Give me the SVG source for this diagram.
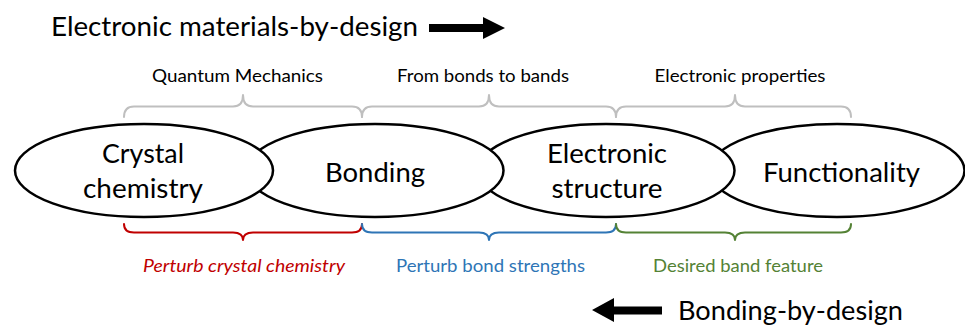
<svg xmlns="http://www.w3.org/2000/svg" width="965" height="325" viewBox="0 0 965 325">
  <style>
    text { font-family: Lato, "Open Sans", "Liberation Sans", sans-serif; fill: #000; }
    .big { font-size: 26.5px; }
    .node-label { font-size: 26.5px; text-anchor: middle; }
    .small { font-size: 18px; text-anchor: middle; }
    .node-shape { fill: #fff; stroke: #000; stroke-width: 2.5; }
    .brace { fill: none; stroke-width: 2; stroke-linejoin: round; stroke-linecap: round; }
    .grey { stroke: #BFBFBF; }
    .red { stroke: #C00000; }
    .blue { stroke: #2E75B6; }
    .green { stroke: #548235; }
    .arrow { fill: #000; }
  </style>

  <!-- direction headings -->
  <g id="heading-forward">
    <text class="big" x="51" y="36" textLength="367" lengthAdjust="spacingAndGlyphs">Electronic materials-by-design</text>
    <path class="arrow" d="M429,24 H483 V17 L505,28 L483,39 V32 H429 Z"/>
  </g>
  <g id="heading-reverse">
    <path class="arrow" d="M662,306.5 H614 V298 L592,310 L614,322 V314.5 H662 Z"/>
    <text class="big" x="678" y="320" textLength="225" lengthAdjust="spacingAndGlyphs">Bonding-by-design</text>
  </g>

  <!-- nodes: drawn right to left so each ellipse overlaps the next one -->
  <g id="node-functionality">
    <ellipse class="node-shape" cx="837" cy="170.5" rx="127.5" ry="46.5"/>
    <text class="node-label" x="841.5" y="182" textLength="157" lengthAdjust="spacingAndGlyphs">Functionality</text>
  </g>
  <g id="node-electronic-structure">
    <ellipse class="node-shape" cx="606" cy="170.5" rx="128.5" ry="46.5"/>
    <text class="node-label" x="607" y="163" textLength="120" lengthAdjust="spacingAndGlyphs">Electronic</text>
    <text class="node-label" x="607" y="198" textLength="111" lengthAdjust="spacingAndGlyphs">structure</text>
  </g>
  <g id="node-bonding">
    <ellipse class="node-shape" cx="375" cy="170.5" rx="128.5" ry="46.5"/>
    <text class="node-label" x="375" y="182" textLength="100" lengthAdjust="spacingAndGlyphs">Bonding</text>
  </g>
  <g id="node-crystal-chemistry">
    <ellipse class="node-shape" cx="144" cy="170.5" rx="129" ry="46.5"/>
    <text class="node-label" x="143" y="163" textLength="82" lengthAdjust="spacingAndGlyphs">Crystal</text>
    <text class="node-label" x="143" y="198" textLength="120" lengthAdjust="spacingAndGlyphs">chemistry</text>
  </g>

  <!-- connectors: curly braces spanning pairs of nodes -->
  <g id="connectors">
    <path class="brace grey" d="M124,117 Q124,106.5 134,106.5 H233 Q243,106.5 243,95 Q243,106.5 253,106.5 H352 Q362,106.5 362,117"/>
    <path class="brace grey" d="M362,117 Q362,106.5 372,106.5 H479 Q489,106.5 489,95 Q489,106.5 499,106.5 H606 Q616,106.5 616,117"/>
    <path class="brace grey" d="M616,117 Q616,106.5 626,106.5 H725 Q735,106.5 735,95 Q735,106.5 745,106.5 H841 Q851,106.5 851,117"/>

    <path class="brace red" d="M124,224 Q124,232.5 134,232.5 H233 Q243,232.5 243,240 Q243,232.5 253,232.5 H352 Q362,232.5 362,224"/>
    <path class="brace blue" d="M362,224 Q362,232.5 372,232.5 H479 Q489,232.5 489,240 Q489,232.5 499,232.5 H606 Q616,232.5 616,224"/>
    <path class="brace green" d="M616,224 Q616,232.5 626,232.5 H725 Q735,232.5 735,240 Q735,232.5 745,232.5 H841 Q851,232.5 851,224"/>
  </g>

  <!-- brace captions -->
  <g id="captions-top">
    <text class="small" x="237.5" y="82" textLength="171" lengthAdjust="spacingAndGlyphs">Quantum Mechanics</text>
    <text class="small" x="483" y="82" textLength="172" lengthAdjust="spacingAndGlyphs">From bonds to bands</text>
    <text class="small" x="740" y="82" textLength="171" lengthAdjust="spacingAndGlyphs">Electronic properties</text>
  </g>
  <g id="captions-bottom">
    <text class="small" x="244" y="272" style="fill:#C00000;font-style:italic" textLength="202" lengthAdjust="spacingAndGlyphs">Perturb crystal chemistry</text>
    <text class="small" x="490.5" y="272" style="fill:#2E75B6" textLength="189" lengthAdjust="spacingAndGlyphs">Perturb bond strengths</text>
    <text class="small" x="738" y="272" style="fill:#548235" textLength="170" lengthAdjust="spacingAndGlyphs">Desired band feature</text>
  </g>
</svg>
